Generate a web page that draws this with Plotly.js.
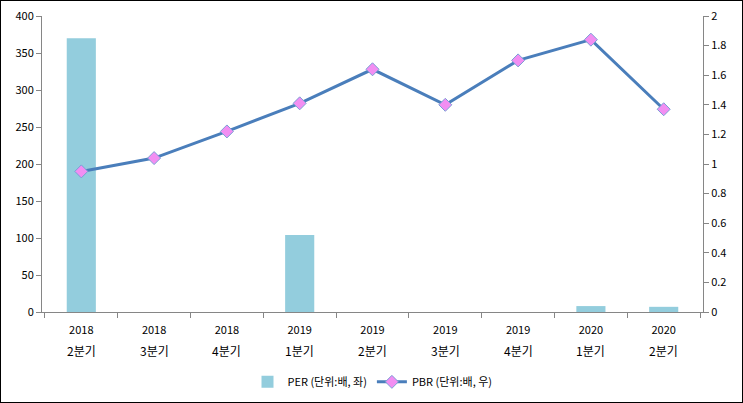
<!DOCTYPE html>
<html><head><meta charset="utf-8">
<script src="https://cdn.plot.ly/plotly-3.0.1.min.js"></script>
<style>html,body{margin:0;padding:0;background:#fff;}#chart{width:743px;height:403px;box-sizing:border-box;border:1px solid #000;}</style>
</head><body><div id="chart"></div>
<script>
const years = ["2018","2018","2018","2019","2019","2019","2019","2020","2020"];
const quarters = ["2분기","3분기","4분기","1분기","2분기","3분기","4분기","1분기","2분기"];
const categories = years.map((y,i)=>y+" "+quarters[i]);
const perValues = [370, 0, 0, 104, 0, 0, 0, 8, 7];
const pbrValues = [0.95, 1.04, 1.22, 1.41, 1.64, 1.40, 1.70, 1.84, 1.37];
const leftTicks = [0,50,100,150,200,250,300,350,400];
const rightTicks = [0,0.2,0.4,0.6,0.8,1,1.2,1.4,1.6,1.8,2];

const fam = "Noto Sans CJK KR, DejaVu Sans, sans-serif";
const font = {family:fam, size:11, color:"#000"};
const data = [
  {type:"bar", x:categories, y:perValues, name:"PER (단위:배, 좌)", marker:{color:"#93cddd"}, width:0.4, yaxis:"y"},
  {type:"scatter", mode:"lines+markers", x:categories, y:pbrValues, name:"PBR (단위:배, 우)", yaxis:"y2",
   line:{color:"#4a7ebb", width:3}, marker:{symbol:"diamond", size:10, color:"#f28ef2", line:{color:"#7a9fd6", width:1}}}
];
const annotations = categories.map((c,i)=>({x:c, xref:"x", y:0, yref:"paper", yanchor:"middle", yshift:-38,
  text:quarters[i], showarrow:false, font:{family:fam, size:12, color:"#000"}}));
const layout = {
  width:741, height:401,
  margin:{l:41, r:39, t:15, b:90, autoexpand:false},
  paper_bgcolor:"#fff", plot_bgcolor:"#fff",
  font:font,
  showlegend:true,
  legend:{orientation:"h", x:0.5, xanchor:"center", y:-0.236, yanchor:"middle", font:{family:fam,size:11}},
  bargap:0.6,
  annotations:annotations,
  xaxis:{type:"category", tickson:"boundaries", ticks:"outside", ticklen:5, tickcolor:"#868686",
    tickvals:categories, ticktext:years, ticklabelstandoff:8,
    showline:true, linecolor:"#868686", linewidth:1, showgrid:false, tickfont:{size:11}, automargin:false},
  yaxis:{range:[0,400], tickvals:leftTicks, ticks:"outside", ticklen:5, tickcolor:"#868686", showline:true,
    linecolor:"#868686", showgrid:false, zeroline:false, tickfont:{size:11}, automargin:false},
  yaxis2:{range:[0,2], tickvals:rightTicks, ticktext:rightTicks.map(String), overlaying:"y", side:"right", ticks:"outside", ticklen:5,
    tickcolor:"#868686", showline:true, linecolor:"#868686", showgrid:false, zeroline:false, tickfont:{size:11}, automargin:false}
};
Plotly.newPlot("chart", data, layout, {displayModeBar:false, staticPlot:true});
</script></body></html>
